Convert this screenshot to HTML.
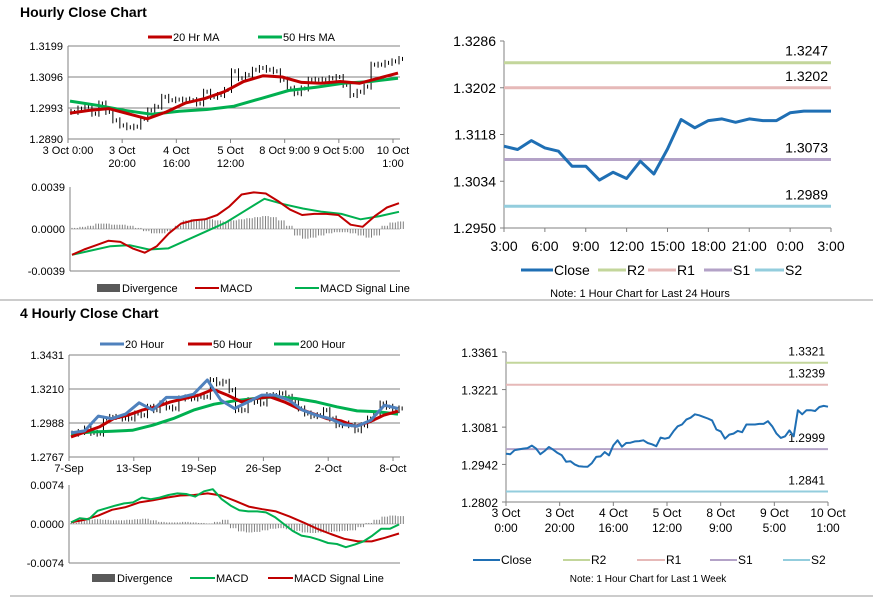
<!DOCTYPE html>
<html><head><meta charset="utf-8">
<style>
html,body{margin:0;padding:0;background:#fff;width:873px;height:601px;overflow:hidden}
svg{display:block;font-family:"Liberation Sans",sans-serif}
</style></head>
<body>
<svg id="root" width="873" height="601" viewBox="0 0 873 601"></svg>
<script>
// ---------- DATA ----------
const p1Close=[1.2980,1.2991,1.2997,1.2974,1.3008,1.2980,1.2952,1.2935,1.2929,1.2931,1.2957,1.2985,1.2997,1.3030,1.3019,1.3021,1.3021,1.3019,1.3008,1.3047,1.3030,1.3036,1.3053,1.3115,1.3092,1.3103,1.3120,1.3126,1.3120,1.3115,1.3087,1.3058,1.3042,1.3058,1.3087,1.3087,1.3087,1.3092,1.3096,1.3070,1.3036,1.3047,1.3064,1.3137,1.3137,1.3143,1.3148,1.3156];
const p1MA20=[1.2976,1.2985,1.2991,1.2974,1.2957,1.2980,1.3010,1.3025,1.3047,1.3081,1.3100,1.3096,1.3078,1.3075,1.3081,1.3075,1.3092,1.3109];
const p1MA50=[1.3016,1.3002,1.2985,1.2972,1.2982,1.2988,1.2999,1.3025,1.3051,1.3062,1.3075,1.3081,1.3092];
const p1Ticks=[1.3199,1.3096,1.2993,1.2890];
const p1XLabels=[["3 Oct 0:00",""],["3 Oct","20:00"],["4 Oct","16:00"],["5 Oct","12:00"],["8 Oct 9:00",""],["9 Oct 5:00",""],["10 Oct","1:00"]];
const m1Macd=[-0.0024,-0.0019,-0.0015,-0.0011,-0.0012,-0.0018,-0.0022,-0.0016,-0.0004,0.0005,0.0008,0.0009,0.0013,0.0021,0.0032,0.0034,0.0033,0.0026,0.0018,0.0013,0.0014,0.0014,0.0013,0.0004,0.0002,0.0012,0.0020,0.0024];
const m1Signal=[-0.0024,-0.0020,-0.0016,-0.0015,-0.0019,-0.0018,-0.0010,-0.0002,0.0006,0.0017,0.0028,0.0023,0.0019,0.0016,0.0014,0.0009,0.0012,0.0016];
const m1Div=[0.0001,0.0002,0.0003,0.0005,0.0005,0.0004,0.0004,0.0003,0.0001,-0.0002,-0.0004,-0.0004,-0.0002,0.0003,0.0008,0.0009,0.0009,0.0009,0.0008,0.0007,0.0008,0.0009,0.0010,0.0011,0.0012,0.0011,0.0008,0.0003,-0.0006,-0.0009,-0.0008,-0.0006,-0.0004,-0.0003,-0.0003,-0.0004,-0.0006,-0.0008,-0.0006,0.0003,0.0006,0.0007];
const m1Ticks=[0.0039,0.0000,-0.0039];
const r1Close=[1.3097,1.3091,1.3107,1.3094,1.3088,1.3061,1.3061,1.3036,1.3050,1.3039,1.3070,1.3047,1.3092,1.3145,1.3130,1.3143,1.3146,1.3140,1.3146,1.3143,1.3143,1.3157,1.3160,1.3160,1.3160];
const r1Levels=[1.3247,1.3202,1.3073,1.2989];
const r1Ticks=[1.3286,1.3202,1.3118,1.3034,1.2950];
const r1XLabels=["3:00","6:00","9:00","12:00","15:00","18:00","21:00","0:00","3:00"];
const p3Close=[1.2919,1.2930,1.2952,1.2924,1.2919,1.3017,1.3028,1.3028,1.3017,1.3017,1.3050,1.3039,1.3094,1.3072,1.3115,1.3089,1.3083,1.3148,1.3155,1.3148,1.3159,1.3159,1.3268,1.3246,1.3257,1.3202,1.3072,1.3072,1.3137,1.3126,1.3115,1.3170,1.3170,1.3181,1.3159,1.3126,1.3083,1.3050,1.3033,1.3039,1.3072,1.3017,1.2974,1.2985,1.2974,1.2941,1.2974,1.3017,1.3050,1.3115,1.3094,1.3072,1.3083];
const p3MA20=[1.2924,1.2937,1.3033,1.3017,1.3046,1.3120,1.3072,1.3155,1.3155,1.3176,1.3268,1.3137,1.3083,1.3126,1.3170,1.3170,1.3137,1.3072,1.3039,1.3017,1.2978,1.2967,1.3006,1.3104,1.3083];
const p3MA50=[1.2898,1.2930,1.2963,1.3017,1.3039,1.3072,1.3094,1.3126,1.3148,1.3170,1.3207,1.3170,1.3126,1.3148,1.3159,1.3126,1.3083,1.3050,1.3017,1.3002,1.2967,1.2996,1.3039,1.3065];
const p3MA200=[1.2919,1.2930,1.2935,1.2941,1.2974,1.3017,1.3072,1.3111,1.3133,1.3148,1.3159,1.3148,1.3126,1.3094,1.3067,1.3061,1.3046];
const p3Ticks=[1.3431,1.3210,1.2988,1.2767];
const p3XLabels=["7-Sep","13-Sep","19-Sep","26-Sep","2-Oct","8-Oct"];
const m3Macd=[0.0003,0.0011,0.0009,0.0025,0.0030,0.0035,0.0039,0.0041,0.0050,0.0047,0.0050,0.0055,0.0058,0.0057,0.0052,0.0062,0.0066,0.0047,0.0035,0.0026,0.0024,0.0024,0.0022,0.0013,0.0000,-0.0013,-0.0022,-0.0025,-0.0030,-0.0036,-0.0038,-0.0044,-0.0039,-0.0033,-0.0022,-0.0009,-0.0009,-0.0001];
const m3Signal=[0.0003,0.0008,0.0016,0.0027,0.0032,0.0041,0.0045,0.0050,0.0054,0.0055,0.0058,0.0054,0.0044,0.0033,0.0028,0.0024,0.0014,0.0003,-0.0009,-0.0019,-0.0028,-0.0033,-0.0033,-0.0026,-0.0018];
const m3Div=[0.0002,0.0006,0.0008,0.0009,0.0008,0.0007,0.0007,0.0008,0.0009,0.0010,0.0007,0.0004,0.0003,0.0003,0.0004,0.0003,0.0002,0.0001,0.0004,0.0008,-0.0008,-0.0014,-0.0016,-0.0015,-0.0012,-0.0009,-0.0008,-0.0010,-0.0013,-0.0016,-0.0017,-0.0016,-0.0015,-0.0014,-0.0013,-0.0012,-0.0006,0.0002,0.0008,0.0014,0.0016,0.0015];
const m3Ticks=[0.0074,0.0000,-0.0074];
const r3Close=[1.2982,1.2980,1.2995,1.2998,1.3001,1.3003,1.3012,1.3001,1.2980,1.2992,1.3007,1.2997,1.2985,1.2976,1.2952,1.2954,1.2942,1.2935,1.2934,1.2933,1.2947,1.2970,1.2972,1.2988,1.2976,1.3013,1.3032,1.3008,1.3022,1.3023,1.3028,1.3029,1.3032,1.3022,1.3017,1.3010,1.3042,1.3038,1.3042,1.3065,1.3084,1.3091,1.3109,1.3116,1.3129,1.3125,1.3119,1.3113,1.3106,1.3072,1.3065,1.3038,1.3053,1.3057,1.3067,1.3062,1.3091,1.3091,1.3091,1.3093,1.3093,1.3103,1.3084,1.3057,1.3041,1.3047,1.3069,1.3047,1.3144,1.3129,1.3144,1.3144,1.3141,1.3156,1.3160,1.3157];
const r3Levels=[1.3321,1.3239,1.2999,1.2841];
const r3Ticks=[1.3361,1.3221,1.3081,1.2942,1.2802];
const r3XLabels=[["3 Oct","0:00"],["3 Oct","20:00"],["4 Oct","16:00"],["5 Oct","12:00"],["8 Oct","9:00"],["9 Oct","5:00"],["10 Oct","1:00"]];
const levelNames=["R2","R1","S1","S2"];

// ---------- RENDER ----------
const NS="http://www.w3.org/2000/svg";
const root=document.getElementById('root');
function el(tag,attrs,parent){const e=document.createElementNS(NS,tag);for(const k in attrs)e.setAttribute(k,attrs[k]);(parent||root).appendChild(e);return e;}
function txt(s,x,y,size,anchor,parent,weight){const t=el('text',{x:x,y:y,'font-size':size,'text-anchor':anchor||'start',fill:'#000','font-weight':weight||'normal'},parent);t.textContent=s;return t;}
function lin(v0,v1,p0,p1){return v=>p0+(v-v0)/(v1-v0)*(p1-p0);}
function poly(vals,x0,x1,ys,color,w,parent){const n=vals.length;const pts=vals.map((v,i)=>(x0+(x1-x0)*i/(n-1)).toFixed(1)+','+ys(v).toFixed(1)).join(' ');return el('polyline',{points:pts,fill:'none',stroke:color,'stroke-width':w,'stroke-linejoin':'round'},parent);}

const RED='#c00000',GREEN='#00b050',BLUE='#4f81bd',DBLUE='#1f6fb4',GRID='#808080';
const LVLC=['#c3d69b','#e6b9b8','#b3a2c7','#93cddd'];

let t=txt('Hourly Close Chart',20,17,14,'start',root,'bold');


t=txt('4 Hourly Close Chart',20,318,14,'start',root,'bold');


let d=el('line',{x1:0,y1:300,x2:873,y2:300,stroke:'#999','stroke-width':1});


d=el('line',{x1:10,y1:596,x2:873,y2:596,stroke:'#999','stroke-width':1});



function legendLine(g,x1,x2,y,color,w,label,name){
  const l=el('line',{x1:x1,y1:y,x2:x2,y2:y,stroke:color,'stroke-width':w},g);
  const tt=txt(label,x2+1,y+4,11,'start',g);
  
  
  
  
}
function legendBox(g,x1,x2,y,label,name){
  const r=el('rect',{x:x1,y:y-4,width:x2-x1,height:8,fill:'#595959'},g);
  const tt=txt(label,x2+2,y+4,11,'start',g);
  
  
  
  
}

function pricePanel(name,x0,x1,yTop,yBot,ticks,close,mas,labels){
  const g=el('g',{});
  
  
  const ys=lin(ticks[0],ticks[ticks.length-1],yTop,yBot);
  ticks.forEach((v,i)=>{
    if(i<ticks.length-1){const gl=el('line',{x1:x0,y1:ys(v),x2:x1,y2:ys(v),stroke:GRID,'stroke-width':1},g);
      
      }
    const tl=txt(v.toFixed(4),x0-5,ys(v)+4,11,'end',g);
    
    
  });
  const ax=el('line',{x1:x0,y1:yTop,x2:x0,y2:yBot,stroke:GRID},g);
  
  
  const bx=el('line',{x1:x0,y1:yBot,x2:x1,y2:yBot,stroke:GRID},g);
  
  
  const n=close.length;
  const step=(x1-4-x0)/(n-1);
  close.forEach((v,i)=>{
    const x=x0+3+step*i;const prev=i?close[i-1]:v;
    const a=Math.min(ys(v),ys(prev))-3,b=Math.max(ys(v),ys(prev))+3;
    const bar=el('line',{x1:x,y1:a,x2:x,y2:b,stroke:'#000','stroke-width':1},g);
    
    
    const bar2=el('line',{x1:x+step/2,y1:ys(v)-2,x2:x+step/2,y2:ys(v)+2,stroke:'#000','stroke-width':1},g);
    
    
  });
  mas.forEach(m=>{const p=poly(m.vals,x0+2,x1-2,ys,m.color,3,g);
    
    });
  labels.forEach((lb,i)=>{
    const x=x0+(x1-7-x0)*i/(labels.length-1);
    const tk=el('line',{x1:x,y1:yBot,x2:x,y2:yBot+4,stroke:GRID},g);
    
    
    const arr=Array.isArray(lb)?lb:[lb];
    arr.forEach((s,j)=>{if(!s)return;const tl=txt(s,x,yBot+15+j*13,11,'middle',g);
      
      });
  });
  return g;
}
function macdPanel(name,x0,x1,yTop,yBot,ticks,div,lines){
  const g=el('g',{});
  
  
  const ys=lin(ticks[0],ticks[2],yTop,yBot);
  const ax=el('line',{x1:x0,y1:yTop,x2:x0,y2:yBot,stroke:GRID},g);
  
  
  const bx=el('line',{x1:x0,y1:yBot,x2:x1,y2:yBot,stroke:GRID},g);
  
  
  ticks.forEach(v=>{const tl=txt(v.toFixed(4),x0-5,ys(v)+4,11,'end',g);
    
    });
  const zx=el('line',{x1:x0,y1:ys(0),x2:x1,y2:ys(0),stroke:'#bfbfbf'},g);
  
  
  const n=div.length,step=(x1-x0-4)/(n-1);
  div.forEach((v,i)=>{
    const x=x0+2+step*i;
    for(let k=0;k<3;k++){
      const b=el('line',{x1:x+k*step/3,y1:ys(0),x2:x+k*step/3,y2:ys(v),stroke:'#7f7f7f','stroke-width':1},g);
      
      
    }
  });
  lines.forEach(m=>{const p=poly(m.vals,x0+2,x1-1,ys,m.color,2,g);
    
    });
  return g;
}
function levelPanel(name,x0,x1,yTop,yBot,ticks,close,levels,labels,fs,lvlFs,lbY){
  const g=el('g',{});
  
  
  const ys=lin(ticks[0],ticks[ticks.length-1],yTop,yBot);
  ticks.forEach(v=>{
    const tl=txt(v.toFixed(4),x0-8,ys(v)+5,fs,'end',g);
    
    
    const tk=el('line',{x1:x0-4,y1:ys(v),x2:x0,y2:ys(v),stroke:GRID},g);
    
    
  });
  const ax=el('line',{x1:x0,y1:yTop,x2:x0,y2:yBot,stroke:GRID},g);
  
  
  const bx=el('line',{x1:x0,y1:yBot,x2:x1,y2:yBot,stroke:GRID},g);
  
  
  levels.forEach((v,i)=>{
    const l=el('line',{x1:x0,y1:ys(v),x2:x1,y2:ys(v),stroke:LVLC[i],'stroke-width':lvlFs>12?3:2},g);
    
    
    const tl=txt(v.toFixed(4),x1-3,ys(v)-7,lvlFs,'end',g);
    
    
  });
  const p=poly(close,x0,x1,ys,DBLUE,lvlFs>12?3:2,g);
  
  
  labels.forEach((lb,i)=>{
    const x=x0+(x1-x0)*i/(labels.length-1);
    const tk=el('line',{x1:x,y1:yBot,x2:x,y2:yBot+4,stroke:GRID},g);
    
    
    const arr=Array.isArray(lb)?lb:[lb];
    arr.forEach((s,j)=>{const tl=txt(s,x,lbY+j*15,fs,'middle',g);
      
      });
  });
  return g;
}

pricePanel('hourly-price-chart',68,400,46,139,p1Ticks,p1Close,
  [{vals:p1MA50,color:GREEN,name:'ma50-line'},{vals:p1MA20,color:RED,name:'ma20-line'}],p1XLabels);
let lg=el('g',{});


legendLine(lg,148,172,37,RED,3,'20 Hr MA','legend-ma20');
legendLine(lg,258,282,37,GREEN,3,'50 Hrs MA','legend-ma50');

macdPanel('hourly-macd-chart',70,400,187,271,m1Ticks,m1Div,
  [{vals:m1Signal,color:GREEN,name:'macd-signal-line'},{vals:m1Macd,color:RED,name:'macd-line'}]);
lg=el('g',{});


legendBox(lg,97,120,288,'Divergence','legend-divergence');
legendLine(lg,195,219,288,RED,2,'MACD','legend-macd');
legendLine(lg,295,319,288,GREEN,2,'MACD Signal Line','legend-signal');

levelPanel('hourly-levels-chart',504,831,41,228,r1Ticks,r1Close,r1Levels,r1XLabels,14,14,251);
lg=el('g',{});


[['Close',521,553,DBLUE],['R2',598,626,LVLC[0]],['R1',648,676,LVLC[1]],['S1',704,732,LVLC[2]],['S2',755,784,LVLC[3]]].forEach(a=>{
  const l=el('line',{x1:a[1],y1:270,x2:a[2],y2:270,stroke:a[3],'stroke-width':3},lg);
  
  
  const tt=txt(a[0],a[2]+1,275,14,'start',lg);
  
  
});
t=txt('Note: 1 Hour Chart for Last 24 Hours',640,297,11,'middle');



pricePanel('four-hourly-price-chart',69,400,355,457,p3Ticks,p3Close,
  [{vals:p3MA200,color:GREEN,name:'ma200-line'},{vals:p3MA50,color:RED,name:'ma50-line'},{vals:p3MA20,color:BLUE,name:'ma20-line'}],p3XLabels);
lg=el('g',{});


legendLine(lg,100,124,344,BLUE,3,'20 Hour','legend-20-hour');
legendLine(lg,188,212,344,RED,3,'50 Hour','legend-50-hour');
legendLine(lg,274,299,344,GREEN,3,'200 Hour','legend-200-hour');

macdPanel('four-hourly-macd-chart',69,400,485,563,m3Ticks,m3Div,
  [{vals:m3Signal,color:RED,name:'macd-signal-line'},{vals:m3Macd,color:GREEN,name:'macd-line'}]);
lg=el('g',{});


legendBox(lg,92,115,578,'Divergence','legend-divergence');
legendLine(lg,190,215,578,GREEN,2,'MACD','legend-macd');
legendLine(lg,268,293,578,RED,2,'MACD Signal Line','legend-signal');

levelPanel('weekly-levels-chart',506,828,352,502,r3Ticks,r3Close,r3Levels,r3XLabels,12,12,517);
lg=el('g',{});


[['Close',473,500,DBLUE],['R2',563,590,LVLC[0]],['R1',637,665,LVLC[1]],['S1',710,737,LVLC[2]],['S2',783,810,LVLC[3]]].forEach(a=>{
  const l=el('line',{x1:a[1],y1:560,x2:a[2],y2:560,stroke:a[3],'stroke-width':2},lg);
  
  
  const tt=txt(a[0],a[2]+1,564,12,'start',lg);
  
  
});
t=txt('Note: 1 Hour Chart for Last 1 Week',648,582,10,'middle');


</script>
</body></html>
